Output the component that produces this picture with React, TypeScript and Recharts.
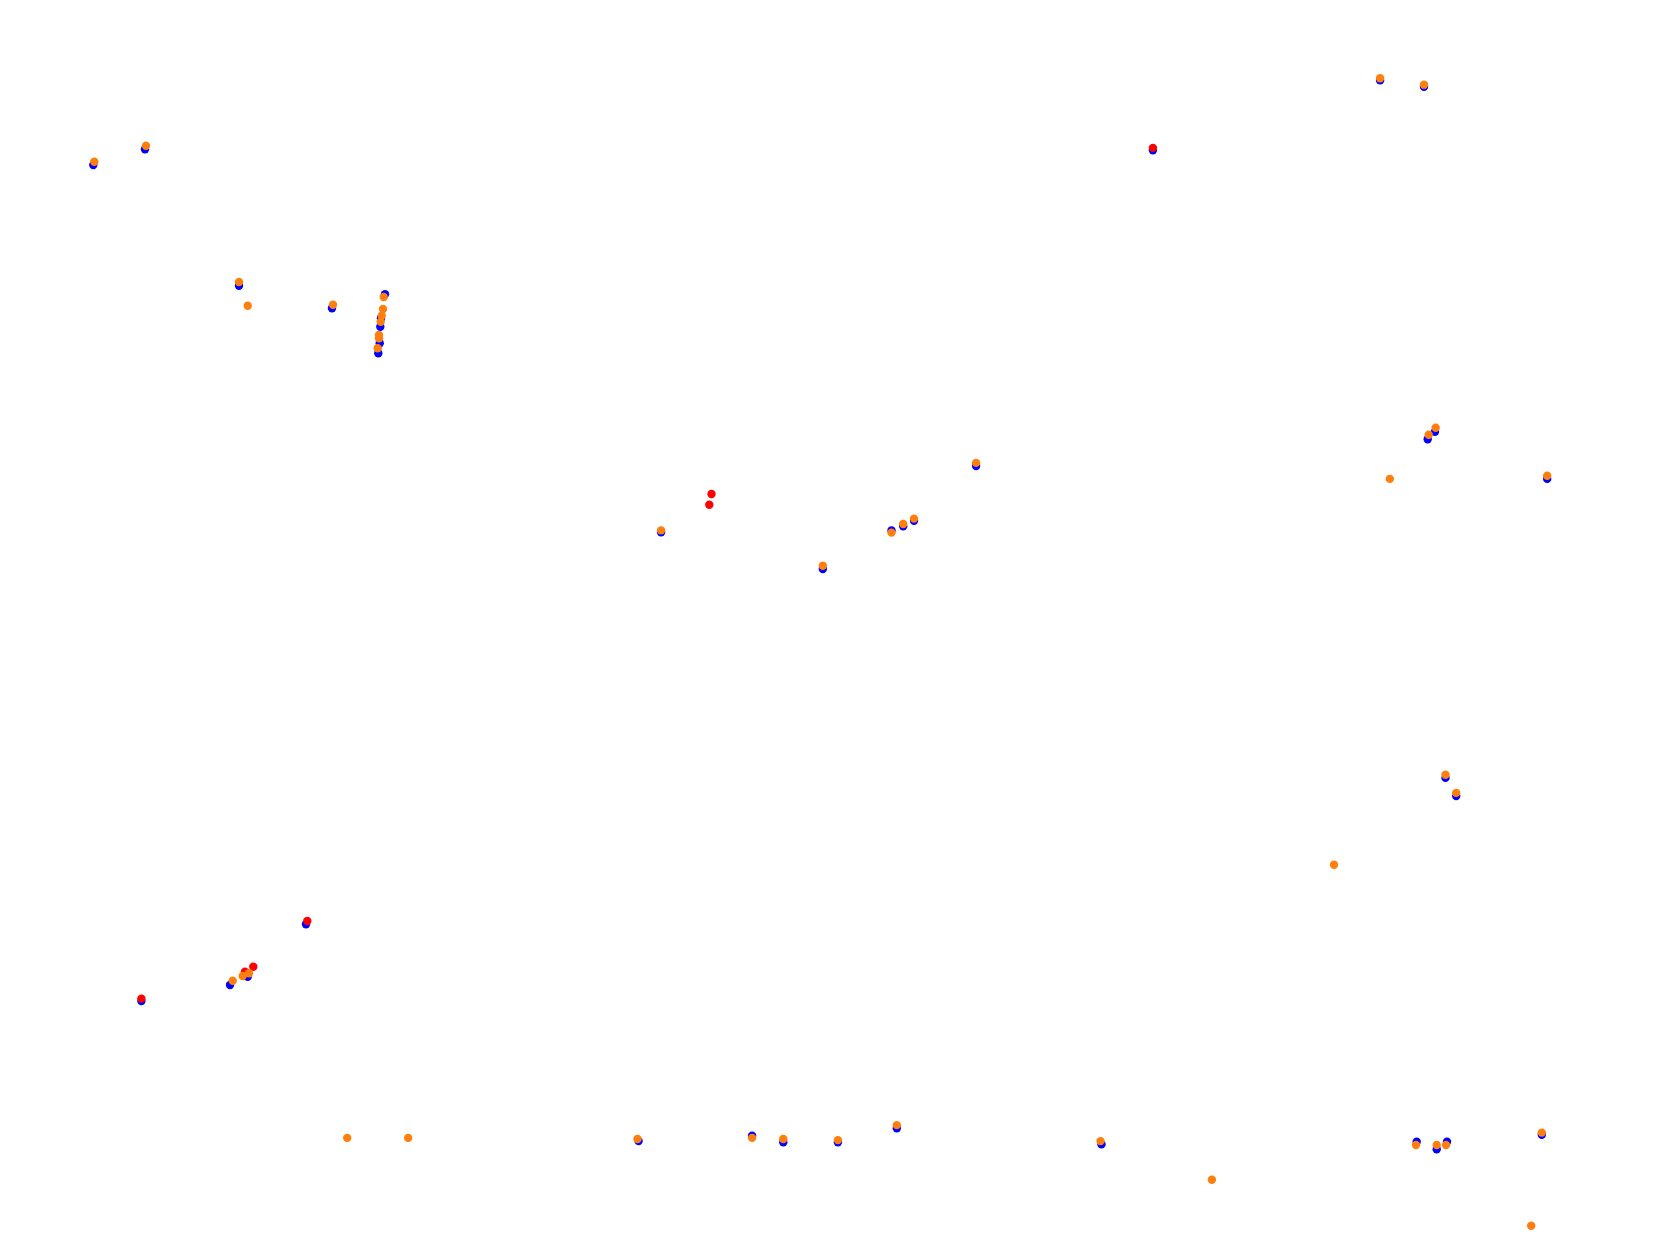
import React from 'react'
import { ScatterChart, Scatter, XAxis, YAxis } from 'recharts'

// positions, in plot units (x right, y down)
const bluePoints = [
  { x: 93.3, y: 165 }, { x: 145, y: 149.3 }, { x: 239, y: 285.7 }, { x: 332, y: 308.3 },
  { x: 385, y: 294.3 }, { x: 381, y: 318.3 }, { x: 380.3, y: 326.7 }, { x: 379.7, y: 343.3 },
  { x: 378.3, y: 353.3 }, { x: 1152.9, y: 150.3 }, { x: 1380.1, y: 80.4 }, { x: 1424, y: 86.8 },
  { x: 1435, y: 431.7 }, { x: 1427.7, y: 439.3 }, { x: 1547.2, y: 478.9 }, { x: 976.1, y: 466.1 },
  { x: 661.1, y: 532.3 }, { x: 822.8, y: 569 }, { x: 891.5, y: 530.4 }, { x: 903.2, y: 526.3 },
  { x: 914, y: 520.8 }, { x: 1445.5, y: 777.9 }, { x: 1456.2, y: 796.1 }, { x: 306, y: 924.3 },
  { x: 141.4, y: 1001.1 }, { x: 247.7, y: 976.7 }, { x: 230, y: 985 }, { x: 638.6, y: 1141.1 },
  { x: 752.1, y: 1135.8 }, { x: 783.3, y: 1142.2 }, { x: 837.9, y: 1142.2 }, { x: 896.8, y: 1128.3 },
  { x: 1101.5, y: 1144.4 }, { x: 1416.7, y: 1141.7 }, { x: 1436.7, y: 1149.3 }, { x: 1447, y: 1141.7 },
  { x: 1541.8, y: 1134.7 },
]

const redPoints = [
  { x: 1152.9, y: 147.9 }, { x: 711.5, y: 494 }, { x: 709.3, y: 504.7 }, { x: 307.3, y: 921 },
  { x: 141.4, y: 998.6 }, { x: 253.3, y: 966.7 }, { x: 245, y: 971.7 },
]

const orangePoints = [
  { x: 94.3, y: 161.7 }, { x: 146, y: 145.7 }, { x: 239, y: 282 }, { x: 247.7, y: 305.7 },
  { x: 333, y: 304.7 }, { x: 383.7, y: 297 }, { x: 383, y: 309 }, { x: 381.7, y: 315.7 },
  { x: 380.7, y: 321.7 }, { x: 379, y: 335 }, { x: 379, y: 338.3 }, { x: 377.7, y: 348.3 },
  { x: 1380.1, y: 78.2 }, { x: 1424, y: 84.7 }, { x: 1435.7, y: 427.7 }, { x: 1428.7, y: 434.7 },
  { x: 1389.8, y: 478.9 }, { x: 1547.2, y: 475.7 }, { x: 976.1, y: 462.9 }, { x: 661.1, y: 530.4 },
  { x: 822.8, y: 565.7 }, { x: 891.5, y: 532.6 }, { x: 903.2, y: 524 }, { x: 914, y: 518.6 },
  { x: 1445.5, y: 774.7 }, { x: 1456.2, y: 792.9 }, { x: 1334, y: 864.7 }, { x: 242.7, y: 976 },
  { x: 249, y: 973.3 }, { x: 232.7, y: 980.7 }, { x: 347.2, y: 1137.9 }, { x: 408.2, y: 1137.9 },
  { x: 637.5, y: 1139 }, { x: 752.1, y: 1137.9 }, { x: 783.3, y: 1139 }, { x: 837.9, y: 1140.1 },
  { x: 896.8, y: 1125.1 }, { x: 1100.5, y: 1141.1 }, { x: 1211.9, y: 1179.7 }, { x: 1416, y: 1145 },
  { x: 1436.7, y: 1145 }, { x: 1446, y: 1145 }, { x: 1541.8, y: 1132.6 }, { x: 1531.2, y: 1225.8 },
]

const dot = (color: string) => (props: any) => (
  <circle cx={props.cx} cy={props.cy} r={4.2} fill={color} />
)

const App = () => {
  return (
    <div style={{ position: 'absolute', left: 0, top: 0, width: 1680, height: 1248, background: '#fff' }}>
      <ScatterChart width={1680} height={1248} margin={{ top: 0, right: 0, bottom: 0, left: 0 }}>
        <XAxis type='number' dataKey='x' domain={[0, 1680]} hide />
        <YAxis type='number' dataKey='y' domain={[0, 1248]} reversed hide />
        <Scatter data={bluePoints} shape={dot('#0000ff')} isAnimationActive={false} />
        <Scatter data={redPoints} shape={dot('#ff0000')} isAnimationActive={false} />
        <Scatter data={orangePoints} shape={dot('#ff7f0e')} isAnimationActive={false} />
      </ScatterChart>
    </div>
  )
}

export default App
